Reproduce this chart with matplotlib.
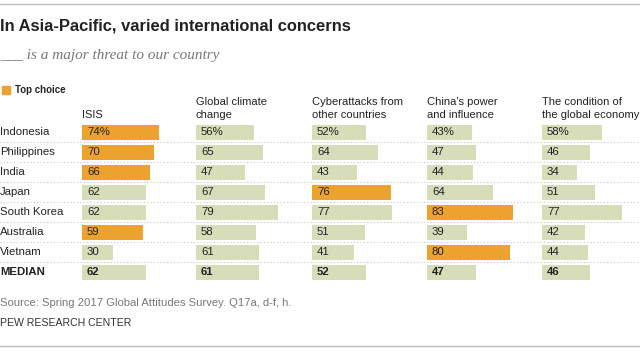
import matplotlib.pyplot as plt
from matplotlib import font_manager

# pick a narrow sans for the title if it exists
def has_font(name):
    try:
        font_manager.findfont(name, fallback_to_default=False)
        return True
    except Exception:
        return False

SANS = "Liberation Sans"
NARROW = "Liberation Sans Narrow" if has_font("Liberation Sans Narrow") else SANS

countries = ["Indonesia", "Philippines", "India", "Japan", "South Korea",
             "Australia", "Vietnam", "MEDIAN"]
headers = ["ISIS", "Global climate\nchange", "Cyberattacks from\nother countries",
           "China's power\nand influence", "The condition of\nthe global economy"]
isis = [74, 70, 66, 62, 62, 59, 30, 62]
climate = [56, 65, 47, 67, 79, 58, 61, 61]
cyber = [52, 64, 43, 76, 77, 51, 41, 52]
china = [43, 47, 44, 64, 83, 39, 80, 47]
economy = [58, 46, 34, 51, 77, 42, 44, 46]
# top choice per country (column index), median has none
top = [[0], [0], [0], [2], [3], [0], [3], []]

columns = [isis, climate, cyber, china, economy]
col_x = [82, 196, 312, 427, 542]
scale = 1.035

orange = "#eca22f"
green = "#d7dcb9"

fig = plt.figure(figsize=(6.4, 3.53), dpi=100)
ax = fig.add_axes([0, 0, 1, 1])
ax.set_xlim(0, 640)
ax.set_ylim(353, 0)
ax.axis("off")

row_y = [132 + 20 * i for i in range(len(countries))]

# dotted separators
for y in row_y[:-1]:
    ax.plot([0, 640], [y + 10, y + 10], color="#c8c8c8", lw=0.8,
            linestyle=(0, (1, 2)), zorder=1)

for c, vals in enumerate(columns):
    colors = [orange if c in top[i] else green for i in range(len(vals))]
    ax.barh(row_y, [v * scale for v in vals], left=col_x[c], height=15,
            color=colors, edgecolor="none", zorder=2)
    for i, v in enumerate(vals):
        txt = f"{v}%" if i == 0 else str(v)
        ax.text(col_x[c] + 5, row_y[i], txt, family=SANS, fontsize=8.2,
                va="center", ha="left", color="#222222",
                weight="bold" if i == len(vals) - 1 else "normal", zorder=3)
    ax.text(col_x[c], 120, headers[c], family=SANS, fontsize=8,
            va="bottom", ha="left", color="#222222", linespacing=1.4)

for i, name in enumerate(countries):
    ax.text(0, row_y[i], name, family=SANS, fontsize=8.2, va="center",
            ha="left", color="#222222",
            weight="bold" if name == "MEDIAN" else "normal")

# legend
ax.add_patch(plt.Rectangle((2, 86), 8, 8, color=orange))
ax.text(15, 90, "Top choice", family=NARROW, fontsize=7, weight="bold",
        va="center", ha="left", color="#222222")

ax.text(0, 26, "In Asia-Pacific, varied international concerns", family=NARROW,
        fontsize=11.9, weight="bold", va="center", ha="left", color="#222222")
ax.text(0, 55, "___ is a major threat to our country", family="Liberation Serif",
        style="italic", fontsize=11, va="center", ha="left", color="#777777")

ax.text(0, 303, "Source: Spring 2017 Global Attitudes Survey. Q17a, d-f, h.",
        family=SANS, fontsize=8.1, va="center", ha="left", color="#777777")
ax.text(0, 323, "PEW RESEARCH CENTER", family=SANS, fontsize=7.6,
        va="center", ha="left", color="#333333")

ax.plot([0, 640], [4, 4], color="#bbbbbb", lw=1)
ax.plot([0, 640], [346, 346], color="#bbbbbb", lw=1)

fig.savefig("out.png", dpi=100)
